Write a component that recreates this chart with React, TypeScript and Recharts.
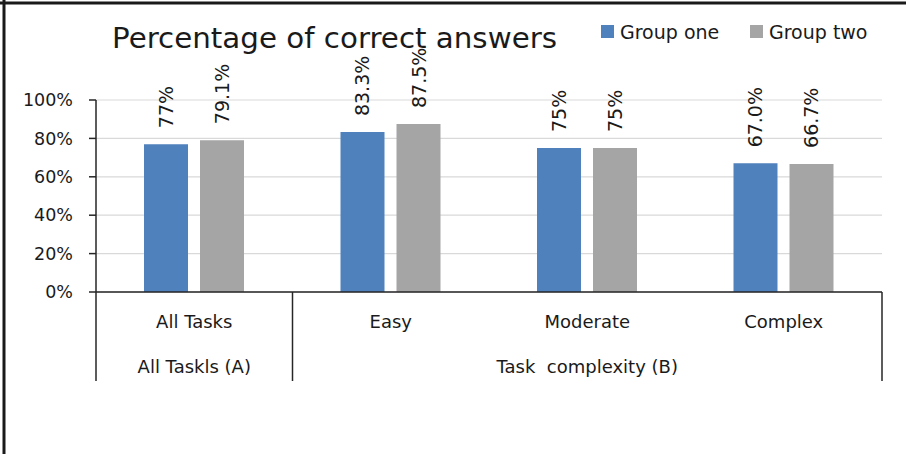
import React from 'react';
import { BarChart, Bar, XAxis, YAxis, CartesianGrid, LabelList } from 'recharts';

const categories = ['All Tasks', 'Easy', 'Moderate', 'Complex'];
const groupOneValues = [77, 83.3, 75, 67.0];
const groupTwoValues = [79.1, 87.5, 75, 66.7];
const groupOneLabels = ['77%', '83.3%', '75%', '67.0%'];
const groupTwoLabels = ['79.1%', '87.5%', '75%', '66.7%'];
const groupNames = ['All Taskls (A)', 'Task  complexity (B)'];
const groupOfCategory = [0, 1, 1, 1];
const yTicks = [0, 20, 40, 60, 80, 100];
const seriesNames = ['Group one', 'Group two'];
const chartTitle = 'Percentage of correct answers';

const W = 906;
const H = 454;
const PLOT_LEFT = 96;
const MARGIN_RIGHT = 24;
const FONT = '"DejaVu Sans", Verdana, sans-serif';
const TEXT = '#1a1a1a';
const AXIS = '#262626';
const BLUE = '#4f81bd';
const GRAY = '#a5a5a5';
const BAND = (W - PLOT_LEFT - MARGIN_RIGHT) / categories.length;

const data = categories.map((c, i) => ({
  category: c,
  g1: groupOneValues[i],
  g2: groupTwoValues[i],
  l1: groupOneLabels[i],
  l2: groupTwoLabels[i],
}));

const RotLabel = (props: any) => {
  const { x, y, width, value } = props;
  const cx = Number(x) + Number(width) / 2;
  const ty = Number(y) - 16;
  return (
    <text
      x={cx}
      y={ty}
      transform={`rotate(-90 ${cx} ${ty})`}
      textAnchor="start"
      dominantBaseline="central"
      fontSize={19}
      fontFamily={FONT}
      fill={TEXT}
    >
      {value}
    </text>
  );
};

const CategoryTick = (props: any) => {
  const { x, y, payload, index } = props;
  const g = groupOfCategory[index];
  const members = groupOfCategory.map((gg, i) => (gg === g ? i : -1)).filter((i) => i >= 0);
  const mid = (members[0] + members[members.length - 1]) / 2;
  const showGroup = index === Math.floor(mid);
  const groupX = x + (mid - Math.floor(mid)) * BAND;
  const isFirst = index === 0 || groupOfCategory[index - 1] !== g;
  const isLast = index === categories.length - 1;
  return (
    <g>
      <text x={x} y={y + 36} textAnchor="middle" fontSize={18} fontFamily={FONT} fill={TEXT}>
        {payload.value}
      </text>
      {showGroup && (
        <text
          x={groupX}
          y={y + 81}
          textAnchor="middle"
          fontSize={18}
          fontFamily={FONT}
          fill={TEXT}
          style={{ whiteSpace: 'pre' }}
        >
          {groupNames[g]}
        </text>
      )}
      {isFirst && <line x1={x - BAND / 2} x2={x - BAND / 2} y1={y} y2={y + 89} stroke={AXIS} strokeWidth={1.5} />}
      {isLast && <line x1={x + BAND / 2} x2={x + BAND / 2} y1={y} y2={y + 89} stroke={AXIS} strokeWidth={1.5} />}
    </g>
  );
};

export default function App() {
  const colors = [BLUE, GRAY];
  const legendX = [601, 750];
  return (
    <div style={{ position: 'absolute', left: 0, top: 0, width: W, height: H, background: '#fff' }}>
      <BarChart
        width={W}
        height={H}
        data={data}
        margin={{ top: 100, right: MARGIN_RIGHT, left: 0, bottom: 0 }}
        barGap={12}
        barSize={44}
      >
        <CartesianGrid vertical={false} stroke="#d9d9d9" strokeWidth={1.2} />
        <XAxis
          dataKey="category"
          height={162}
          interval={0}
          tickLine={false}
          tickSize={0}
          tickMargin={0}
          axisLine={{ stroke: AXIS, strokeWidth: 1.5 }}
          tick={<CategoryTick />}
        />
        <YAxis
          width={PLOT_LEFT}
          domain={[0, 100]}
          ticks={yTicks}
          tickFormatter={(v: number) => `${v}%`}
          tickSize={7}
          tickMargin={16}
          axisLine={{ stroke: AXIS, strokeWidth: 1.5 }}
          tickLine={{ stroke: AXIS, strokeWidth: 1.5 }}
          tick={{ fontSize: 17.5, fontFamily: FONT, fill: TEXT }}
        />
        <Bar dataKey="g1" name={seriesNames[0]} fill={BLUE} isAnimationActive={false}>
          <LabelList dataKey="l1" content={<RotLabel />} />
        </Bar>
        <Bar dataKey="g2" name={seriesNames[1]} fill={GRAY} isAnimationActive={false}>
          <LabelList dataKey="l2" content={<RotLabel />} />
        </Bar>
      </BarChart>
      <svg
        width={W}
        height={H}
        style={{ position: 'absolute', left: 0, top: 0, pointerEvents: 'none' }}
      >
        <line x1={0} x2={W} y1={3} y2={3} stroke="#1a1a1a" strokeWidth={3} />
        <line x1={4} x2={4} y1={0} y2={H} stroke="#1a1a1a" strokeWidth={3} />
        <text
          x={334.5}
          y={48}
          textAnchor="middle"
          fontSize={29}
          fontFamily={FONT}
          fill={TEXT}
          textLength={445}
          lengthAdjust="spacingAndGlyphs"
        >
          {chartTitle}
        </text>
        {seriesNames.map((n, i) => (
          <g key={n}>
            <rect x={legendX[i]} y={25} width={13} height={13} fill={colors[i]} />
            <text x={legendX[i] + 19} y={39} fontSize={19} fontFamily={FONT} fill={TEXT}>
              {n}
            </text>
          </g>
        ))}
      </svg>
    </div>
  );
}
